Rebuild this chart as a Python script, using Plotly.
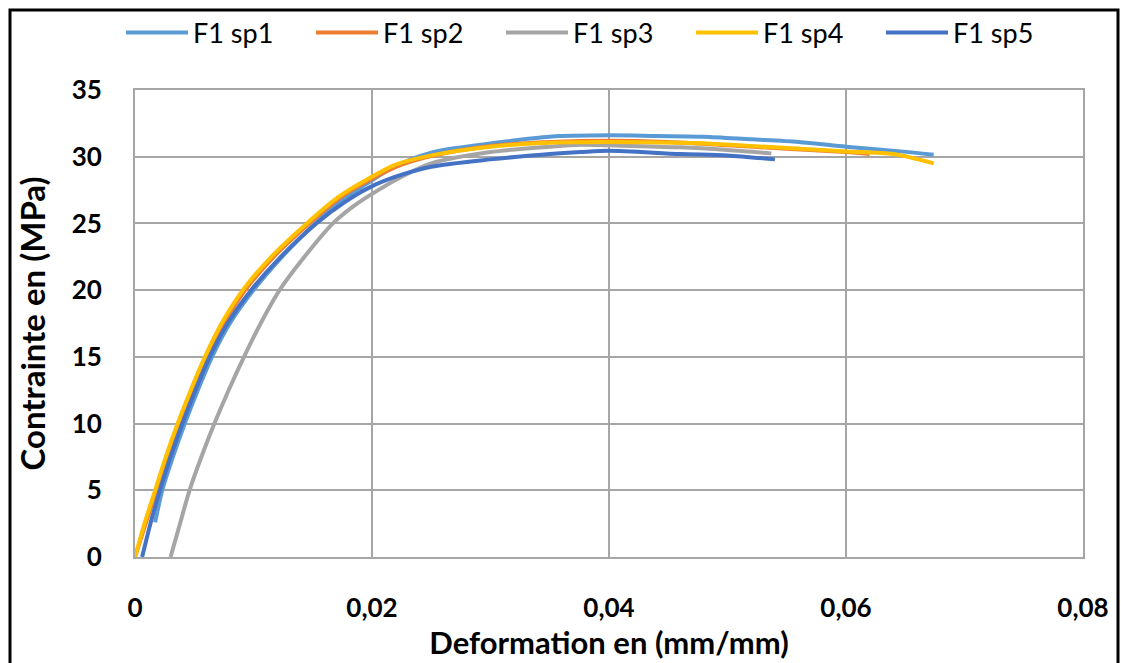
import plotly.graph_objects as go

# ---- data ----
series_names = ["F1 sp1", "F1 sp2", "F1 sp3", "F1 sp4", "F1 sp5"]
series_colors = ["#5B9BD5", "#ED7D31", "#A5A5A5", "#FFC000", "#4472C4"]

sp1_strain = [0.0017, 0.0023, 0.0032, 0.0042, 0.0053, 0.0065, 0.0080, 0.0100, 0.0124, 0.0152,
              0.0175, 0.0196, 0.0220, 0.0250, 0.0275, 0.0300, 0.0350, 0.0400, 0.0440, 0.0480,
              0.0520, 0.0560, 0.0600, 0.0646, 0.0674]
sp1_stress = [2.6, 5.0, 7.5, 10.0, 12.5, 15.0, 17.5, 20.0, 22.5, 25.0,
              26.8, 28.0, 29.3, 30.3, 30.7, 31.0, 31.5, 31.6, 31.55, 31.5,
              31.3, 31.1, 30.75, 30.4, 30.15]

sp2_strain = [0.0, 0.0009, 0.0018, 0.0027, 0.0037, 0.0048, 0.0060, 0.0075, 0.0093, 0.0117,
              0.0147, 0.0174, 0.0200, 0.0225, 0.0250, 0.0300, 0.0350, 0.0400, 0.0450, 0.0500,
              0.0550, 0.0600, 0.0620]
sp2_stress = [0.0, 2.5, 5.0, 7.5, 10.0, 12.5, 15.0, 17.5, 20.0, 22.5,
              25.0, 27.0, 28.35, 29.4, 30.05, 30.8, 31.1, 31.2, 31.1, 30.85,
              30.6, 30.35, 30.2]

sp3_strain = [0.0030, 0.0038, 0.0046, 0.0056, 0.0067, 0.0079, 0.0092, 0.0106, 0.0122, 0.0143,
              0.0167, 0.0183, 0.0198, 0.0225, 0.0250, 0.0300, 0.0350, 0.0376, 0.0400, 0.0460,
              0.0500, 0.0537]
sp3_stress = [0.0, 2.5, 5.0, 7.5, 10.0, 12.5, 15.0, 17.5, 20.0, 22.5,
              25.0, 26.2, 27.1, 28.5, 29.5, 30.35, 30.75, 30.9, 30.85, 30.7,
              30.5, 30.25]

sp4_strain = [0.0, 0.0008, 0.0017, 0.0026, 0.0036, 0.0047, 0.0059, 0.0073, 0.0091, 0.0115,
              0.0145, 0.0172, 0.0198, 0.0220, 0.0250, 0.0300, 0.0350, 0.0400, 0.0477, 0.0520,
              0.0561, 0.0600, 0.0640, 0.0674]
sp4_stress = [0.0, 2.5, 5.0, 7.5, 10.0, 12.5, 15.0, 17.5, 20.0, 22.5,
              25.0, 27.0, 28.4, 29.4, 30.1, 30.75, 31.05, 31.1, 31.0, 30.8,
              30.6, 30.4, 30.2, 29.5]

sp5_strain = [0.0006, 0.0013, 0.0021, 0.0030, 0.0040, 0.0051, 0.0063, 0.0078, 0.0098, 0.0123,
              0.0153, 0.0177, 0.0198, 0.0220, 0.0250, 0.0300, 0.0350, 0.0376, 0.0400, 0.0460,
              0.0500, 0.0540]
sp5_stress = [0.0, 2.5, 5.0, 7.5, 10.0, 12.5, 15.0, 17.5, 20.0, 22.5,
              25.0, 26.6, 27.7, 28.5, 29.25, 29.8, 30.2, 30.35, 30.45, 30.2,
              30.1, 29.8]

x_title = "Deformation en (mm/mm)"
y_title = "Contrainte en (MPa)"

strains = [sp1_strain, sp2_strain, sp3_strain, sp4_strain, sp5_strain]
stresses = [sp1_stress, sp2_stress, sp3_stress, sp4_stress, sp5_stress]

FONT = "Lato"
W, H = 1121, 663
L, R, T, B = 135, 38, 90, 106
pw, ph = W - L - R, H - T - B

fig = go.Figure()
for name, col, xs, ys in zip(series_names, series_colors, strains, stresses):
    fig.add_trace(go.Scatter(
        x=xs, y=ys, name=name, mode="lines",
        line=dict(color=col, width=4, shape="spline", smoothing=0.8),
    ))

def px_x(p):
    return (p - L) / pw

def px_y(p):
    return (H - B - p) / ph

grid = "#A6A6A6"
fig.update_layout(
    width=W, height=H,
    margin=dict(l=L, r=R, t=T, b=B, autoexpand=False),
    paper_bgcolor="white", plot_bgcolor="white",
    separators=", ",
    font=dict(family=FONT, size=26, color="black"),
    showlegend=True,
    legend=dict(
        orientation="h", x=px_x(121), y=px_y(33), xanchor="left", yanchor="middle",
        font=dict(family=FONT, size=27, color="black"),
        itemwidth=62, entrywidth=113, entrywidthmode="pixels",
        bgcolor="rgba(0,0,0,0)", borderwidth=0,
    ),
    xaxis=dict(
        range=[0, 0.08], dtick=0.02, tick0=0, automargin=False,
        showgrid=True, gridcolor=grid, gridwidth=2,
        showline=True, linecolor=grid, linewidth=2, mirror=True,
        zeroline=False,
        ticks="outside", ticklen=27, tickcolor="rgba(0,0,0,0)",
        tickfont=dict(family=FONT, size=26, color="black", weight="bold"),
        title=dict(text="<b>" + x_title + "</b>", standoff=2,
                   font=dict(family=FONT, size=31, color="black")),
    ),
    yaxis=dict(
        range=[0, 35], dtick=5, tick0=0, automargin=False,
        showgrid=True, gridcolor=grid, gridwidth=2,
        showline=True, linecolor=grid, linewidth=2, mirror=True,
        zeroline=False,
        ticks="outside", ticklen=26, tickcolor="rgba(0,0,0,0)",
        tickfont=dict(family=FONT, size=26, color="black", weight="bold"),
        title=dict(text="<b>" + y_title + "</b>", standoff=16,
                   font=dict(family=FONT, size=33, color="black")),
    ),
    shapes=[dict(
        type="rect", xref="paper", yref="paper",
        x0=px_x(10), x1=px_x(1118), y0=px_y(720), y1=px_y(10),
        line=dict(color="black", width=3), fillcolor="rgba(0,0,0,0)", layer="above",
    )],
)

fig.write_html(
    "out.html",
    config={"displayModeBar": False},
    post_script="document.body.style.margin='0';document.body.style.overflow='hidden';",
)
